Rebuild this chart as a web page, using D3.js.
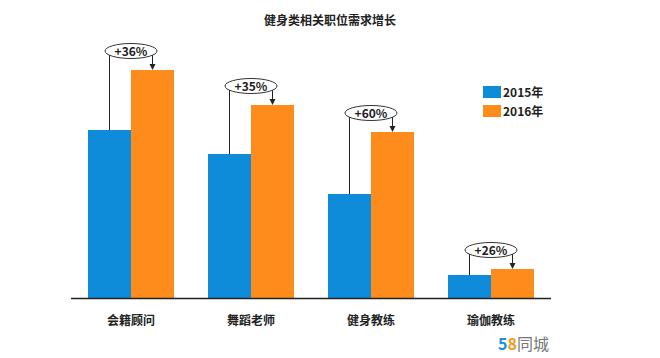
<!DOCTYPE html>
<html><head><meta charset="utf-8">
<script src="https://cdn.jsdelivr.net/npm/d3@7"></script>
<style>body{margin:0;background:#fff}svg{display:block}text{font-family:"Noto Sans CJK SC","Noto Sans",sans-serif}</style>
</head><body><svg id="c" width="660" height="358"></svg>
<script>
const categories = ["会籍顾问","舞蹈老师","健身教练","瑜伽教练"];
const series = ["2015年","2016年"];
const values2015 = [168,144,104,23];
const values2016 = [228,193,166,29];
const growthLabels = ["+36%","+35%","+60%","+26%"];
const title = "健身类相关职位需求增长";
const colors = ["#0f8cd9","#fd8c1c"];

const svg = d3.select("#c");
const x = d3.scaleBand().domain(categories).range([71,551]).paddingInner(0.2833).paddingOuter(0.1417);
const xs = d3.scaleBand().domain(series).range([0,x.bandwidth()]);
const y = d3.scaleLinear().domain([0,228]).range([298,70]);

svg.append("text").attr("x",330).attr("y",25).attr("text-anchor","middle")
  .attr("font-size",12).attr("font-weight","bold").attr("fill","#222").text(title);

const data = categories.map((c,i)=>({c, v:[values2015[i],values2016[i]], g:growthLabels[i]}));
const grp = svg.append("g");
data.forEach(d=>{
  d.v.forEach((v,j)=>{
    grp.append("rect").attr("x",x(d.c)+xs(series[j])).attr("y",y(v))
      .attr("width",xs.bandwidth()).attr("height",y(0)-y(v)).attr("fill",colors[j]);
  });
});

svg.append("line").attr("x1",71).attr("x2",551).attr("y1",298.5).attr("y2",298.5)
  .attr("stroke","#222").attr("stroke-width",1.5);

svg.append("g").selectAll("text").data(categories).join("text")
  .attr("x",d=>x(d)+x.bandwidth()/2).attr("y",325).attr("text-anchor","middle")
  .attr("font-size",12).attr("font-weight","bold").attr("fill","#222").text(d=>d);

// annotations
data.forEach(d=>{
  const bx = x(d.c)+xs(series[0])+xs.bandwidth()/2;
  const ox = x(d.c)+xs(series[1])+xs.bandwidth()/2;
  const cx = x(d.c)+x.bandwidth()/2;
  const cy = y(d.v[1]) - 19;
  const g = svg.append("g");
  g.append("line").attr("x1",bx).attr("x2",bx).attr("y1",cy).attr("y2",y(d.v[0])).attr("stroke","#222").attr("stroke-width",1);
  g.append("line").attr("x1",ox).attr("x2",ox).attr("y1",cy).attr("y2",y(d.v[1])-5).attr("stroke","#222").attr("stroke-width",1);
  g.append("path").attr("d",`M${ox-3},${y(d.v[1])-6}L${ox+3},${y(d.v[1])-6}L${ox},${y(d.v[1])}Z`).attr("fill","#222");
  g.append("ellipse").attr("cx",cx).attr("cy",cy).attr("rx",26).attr("ry",7.5)
    .attr("fill","#fff").attr("stroke","#333").attr("stroke-width",1);
  g.append("text").attr("x",cx).attr("y",cy+4.5).attr("text-anchor","middle")
    .attr("font-size",12).attr("font-weight","bold").attr("fill","#222").text(d.g);
});

// legend
const lg = svg.append("g");
series.forEach((s,i)=>{
  lg.append("rect").attr("x",483).attr("y",86+i*19).attr("width",18).attr("height",12).attr("fill",colors[i]);
  lg.append("text").attr("x",503).attr("y",97+i*19).attr("font-size",12).attr("font-weight","bold").attr("fill","#222").text(s);
});

// logo
const logo = svg.append("text").attr("x",498).attr("y",350).attr("font-size",16);
logo.append("tspan").attr("fill","#1d8fe0").attr("font-weight","bold").text("5");
logo.append("tspan").attr("fill","#f39a1e").attr("font-weight","bold").text("8");
logo.append("tspan").attr("fill","#777").text("同城");
</script></body></html>
